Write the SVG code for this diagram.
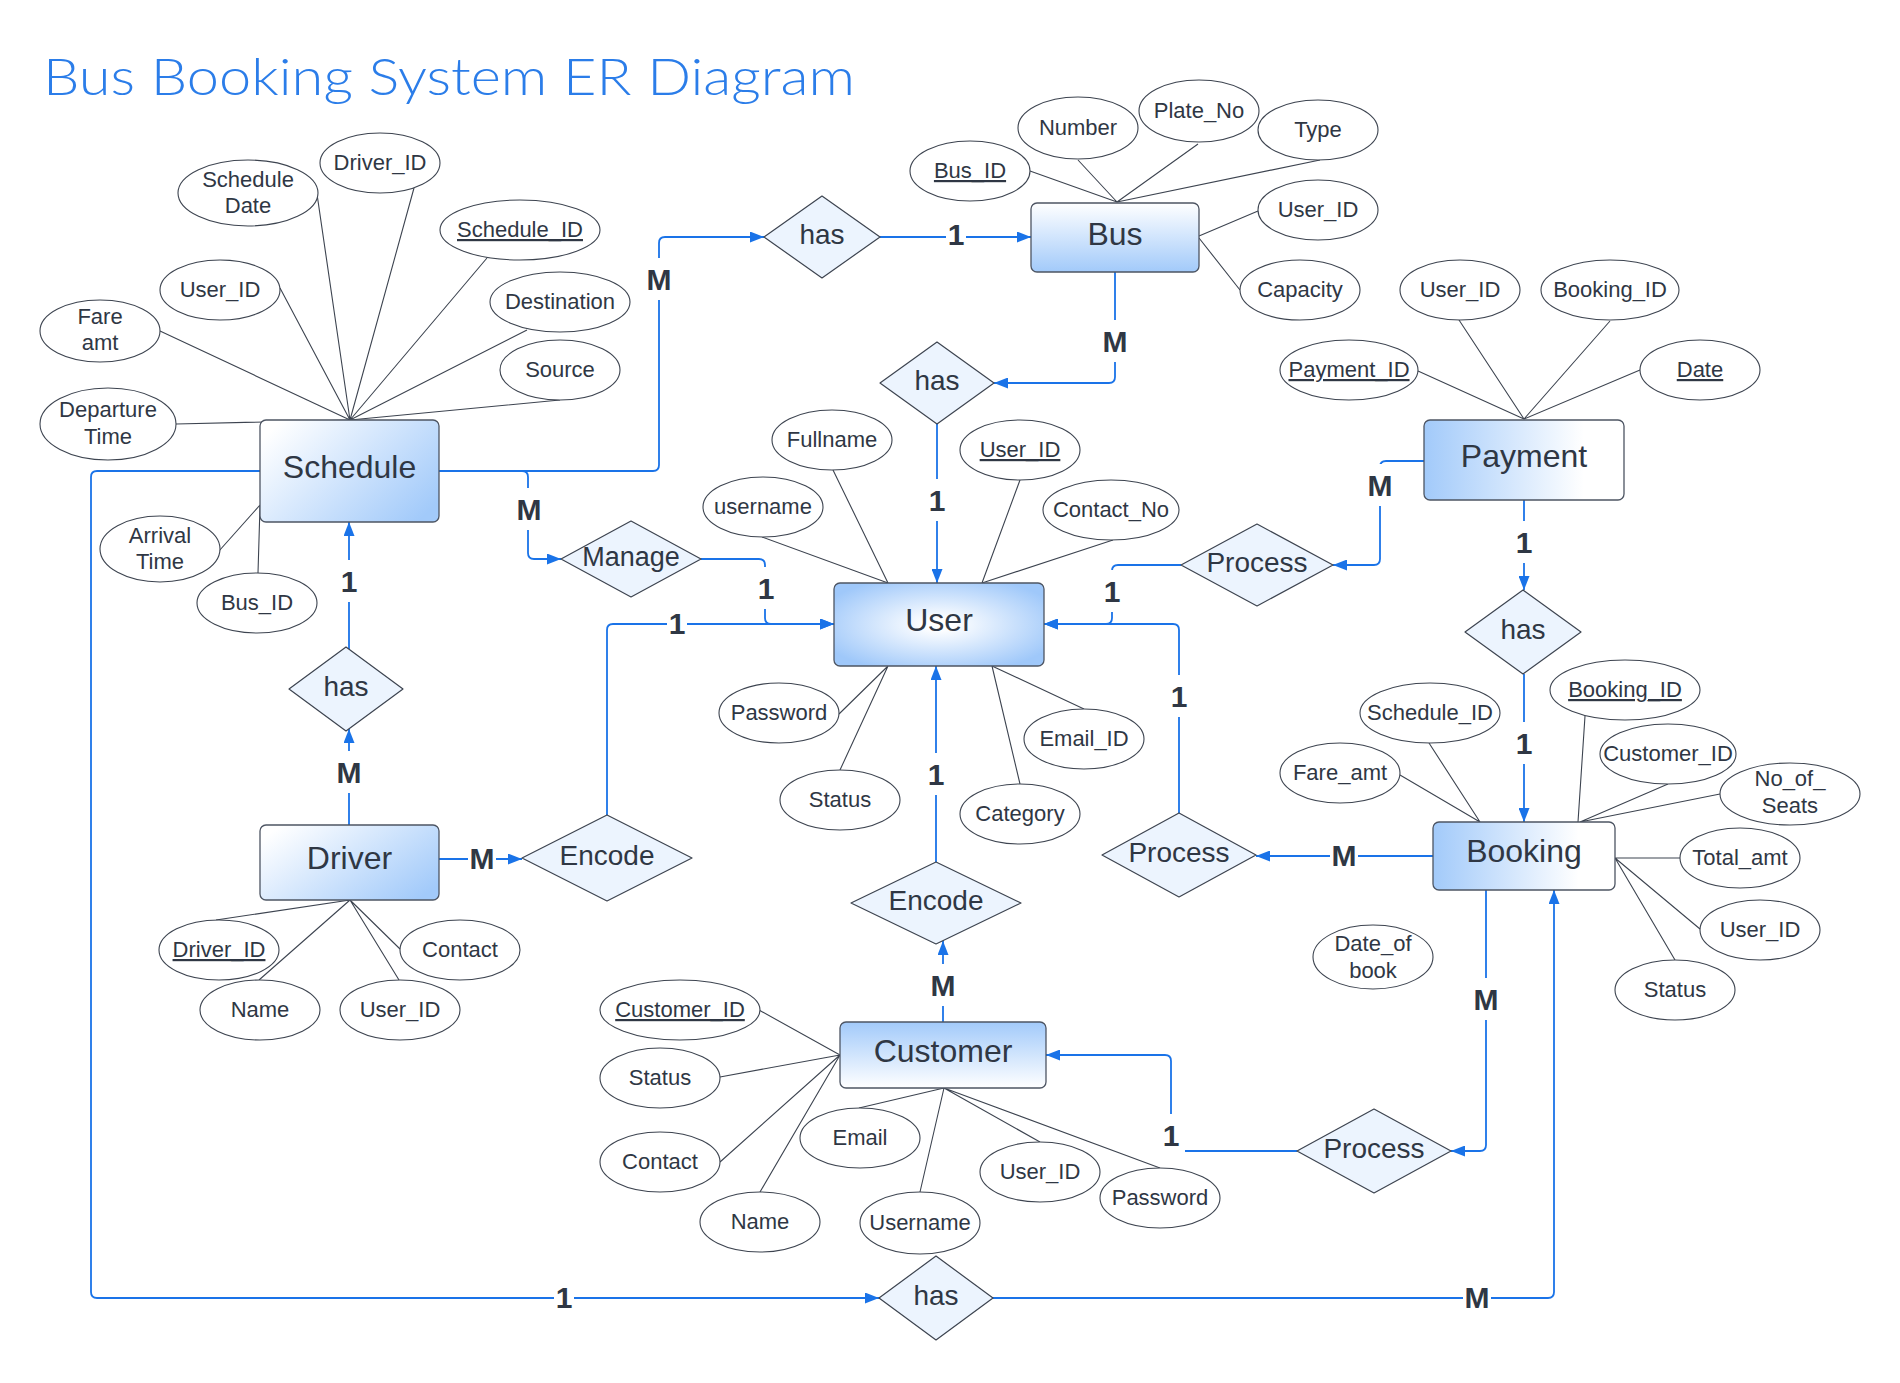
<svg xmlns="http://www.w3.org/2000/svg" width="1900" height="1383" viewBox="0 0 1900 1383">
<defs>
<style>
.ent{stroke:#4d5563;stroke-width:1.3}
.et{font-family:"Liberation Sans",Arial,sans-serif;font-size:32px;fill:#2f3744;text-anchor:middle}
.rel{fill:#ecf4fe;stroke:#3d4450;stroke-width:1.2;stroke-linejoin:round}
.rt{font-family:"Liberation Sans",Arial,sans-serif;font-size:28px;fill:#2f3744;text-anchor:middle}
.att ellipse{fill:#fff;stroke:#3d4450;stroke-width:1.1}
.at{font-family:"Liberation Sans",Arial,sans-serif;font-size:22px;fill:#2f3744;text-anchor:middle}
.u{text-decoration:underline}
.al{stroke:#3d4450;stroke-width:1.1;fill:none}
.cn{fill:none;stroke:#1a73e8;stroke-width:1.8}
.ar{marker-end:url(#arr)}
.card{font-family:"Liberation Sans",Arial,sans-serif;font-size:30px;font-weight:bold;fill:#2f3744;text-anchor:middle}
.bg{fill:#fff}
.title{font-family:Lato,"Open Sans",sans-serif;font-weight:300;font-size:52px;fill:#2b7de9}
</style>
<marker id="arr" viewBox="0 0 14 11" refX="14" refY="5.5" markerWidth="14" markerHeight="11" markerUnits="userSpaceOnUse" orient="auto"><path d="M0,0 L14,5.5 L0,11 z" fill="#1a73e8"/></marker>
<linearGradient id="gD" x1="0" y1="0.2" x2="1" y2="0.8"><stop offset="0" stop-color="#ffffff"/><stop offset="1" stop-color="#a2cafa"/></linearGradient>
<linearGradient id="gV" x1="0" y1="0" x2="0" y2="1"><stop offset="0" stop-color="#ffffff"/><stop offset="1" stop-color="#a2cafa"/></linearGradient>
<linearGradient id="gVr" x1="0" y1="0" x2="0" y2="1"><stop offset="0" stop-color="#a2cafa"/><stop offset="1" stop-color="#ffffff"/></linearGradient>
<linearGradient id="gH" x1="0" y1="0" x2="1" y2="0"><stop offset="0" stop-color="#a2cafa"/><stop offset="0.8" stop-color="#ffffff"/></linearGradient>
<radialGradient id="gR" cx="0.5" cy="0.5" r="0.6"><stop offset="0.1" stop-color="#ffffff"/><stop offset="1" stop-color="#9fc8fa"/></radialGradient>
</defs>
<rect width="1900" height="1383" fill="#fff"/>
<text class="title" x="43" y="95" textLength="812" lengthAdjust="spacingAndGlyphs">Bus Booking System ER Diagram</text>

<g id="connectors">
<!-- attribute lines: Schedule -->
<path class="al" d="M317,194 L350,420 M414,188 L350,420 M487,258 L350,420 M280,288 L350,420 M527,330 L350,420 M160,331 L350,420 M560,400 L350,420 M176,424 L350,420 M219,551 L260,505 M258,573 L260,506"/>
<!-- Bus -->
<path class="al" d="M1030,171 L1117,202 M1078,160 L1117,202 M1198,144 L1117,202 M1320,160 L1117,202 M1258,211 L1199,236 M1240,290 L1199,238"/>
<!-- Payment -->
<path class="al" d="M1418,371 L1524,419 M1459,320 L1524,419 M1610,321 L1524,419 M1640,370 L1524,419"/>
<!-- User -->
<path class="al" d="M833,470 L888,583 M762,537 L888,583 M1020,480 L982,583 M1113,540 L982,583 M839,714 L888,666 M840,770 L888,666 M1084,709 L992,666 M1020,784 L992,666"/>
<!-- Booking -->
<path class="al" d="M1429,743 L1480,822 M1400,775 L1480,822 M1585,716 L1578,822 M1668,784 L1580,822 M1720,794 L1580,822 M1680,858 L1615,858 M1700,929 L1615,858 M1675,960 L1615,858"/>
<!-- Driver -->
<path class="al" d="M216,920 L350,900 M259,980 L350,900 M399,980 L350,900 M400,949 L350,900"/>
<!-- Customer -->
<path class="al" d="M759,1010 L840,1055 M720,1077 L840,1055 M720,1162 L840,1055 M760,1192 L840,1055 M859,1108 L944,1088 M920,1192 L944,1088 M1040,1142 L944,1088 M1160,1168 L944,1088"/>

<!-- relationship connectors -->
<path class="cn ar" d="M439,471 H653 Q659,471 659,465 V243 Q659,237 665,237 H764"/>
<path class="cn ar" d="M439,471 H522 Q528,471 528,477 V553 Q528,559 534,559 H561"/>
<path class="cn ar" d="M880,237 H1031"/>
<path class="cn ar" d="M1115,272 V377 Q1115,383 1109,383 H994"/>
<path class="cn ar" d="M937,424 V583"/>
<path class="cn ar" d="M701,559 H759 Q765,559 765,565 V618 Q765,624 771,624 H834"/>
<path class="cn ar" d="M607,815 V630 Q607,624 613,624 H834"/>
<path class="cn ar" d="M439,859 H522"/>
<path class="cn ar" d="M349,825 V729"/>
<path class="cn ar" d="M349,649 V522"/>
<path class="cn ar" d="M1424,461 H1386 Q1380,461 1380,467 V559 Q1380,565 1374,565 H1333"/>
<path class="cn ar" d="M1181,565 H1118 Q1112,565 1112,571 V618 Q1112,624 1106,624 H1044"/>
<path class="cn ar" d="M1179,813 V630 Q1179,624 1173,624 H1044"/>
<path class="cn ar" d="M1433,856 H1256"/>
<path class="cn ar" d="M1524,500 V590"/>
<path class="cn ar" d="M1524,674 V822"/>
<path class="cn ar" d="M1486,890 V1145 Q1486,1151 1480,1151 H1451"/>
<path class="cn ar" d="M1297,1151 H1177 Q1171,1151 1171,1145 V1061 Q1171,1055 1165,1055 H1046"/>
<path class="cn ar" d="M943,1022 V941"/>
<path class="cn ar" d="M936,862 V666"/>
<path class="cn ar" d="M260,471 H97 Q91,471 91,477 V1292 Q91,1298 97,1298 H879"/>
<path class="cn ar" d="M993,1298 H1548 Q1554,1298 1554,1292 V890"/>

<!-- cardinality labels -->
<g id="cardinalities">
<rect class="bg" x="645" y="258" width="28" height="42"/><text class="card" x="659" y="290">M</text>
<rect class="bg" x="946" y="222" width="20" height="30"/><text class="card" x="956" y="245">1</text>
<rect class="bg" x="1101" y="320" width="28" height="42"/><text class="card" x="1115" y="352">M</text>
<rect class="bg" x="923" y="479" width="28" height="42"/><text class="card" x="937" y="511">1</text>
<rect class="bg" x="515" y="488" width="28" height="42"/><text class="card" x="529" y="520">M</text>
<rect class="bg" x="752" y="567" width="28" height="42"/><text class="card" x="766" y="599">1</text>
<rect class="bg" x="667" y="609" width="20" height="30"/><text class="card" x="677" y="634">1</text>
<rect class="bg" x="468" y="844" width="28" height="30"/><text class="card" x="482" y="869">M</text>
<rect class="bg" x="335" y="751" width="28" height="42"/><text class="card" x="349" y="783">M</text>
<rect class="bg" x="335" y="560" width="28" height="42"/><text class="card" x="349" y="592">1</text>
<rect class="bg" x="1366" y="464" width="28" height="42"/><text class="card" x="1380" y="496">M</text>
<rect class="bg" x="1098" y="570" width="28" height="42"/><text class="card" x="1112" y="602">1</text>
<rect class="bg" x="1165" y="675" width="28" height="42"/><text class="card" x="1179" y="707">1</text>
<rect class="bg" x="1330" y="841" width="28" height="30"/><text class="card" x="1344" y="866">M</text>
<rect class="bg" x="1510" y="521" width="28" height="42"/><text class="card" x="1524" y="553">1</text>
<rect class="bg" x="1510" y="722" width="28" height="42"/><text class="card" x="1524" y="754">1</text>
<rect class="bg" x="1472" y="978" width="28" height="42"/><text class="card" x="1486" y="1010">M</text>
<rect class="bg" x="1157" y="1114" width="28" height="42"/><text class="card" x="1171" y="1146">1</text>
<rect class="bg" x="929" y="964" width="28" height="42"/><text class="card" x="943" y="996">M</text>
<rect class="bg" x="922" y="753" width="28" height="42"/><text class="card" x="936" y="785">1</text>
<rect class="bg" x="554" y="1283" width="20" height="30"/><text class="card" x="564" y="1308">1</text>
<rect class="bg" x="1463" y="1283" width="28" height="30"/><text class="card" x="1477" y="1308">M</text>
</g>
</g>

<!-- Entities -->
<g id="schedule"><rect class="ent" x="260" y="420" width="179" height="102" rx="6" fill="url(#gD)"/><text class="et" x="349.5" y="478">Schedule</text></g>
<g id="bus"><rect class="ent" x="1031" y="203" width="168" height="69" rx="6" fill="url(#gV)"/><text class="et" x="1115" y="245">Bus</text></g>
<g id="payment"><rect class="ent" x="1424" y="420" width="200" height="80" rx="6" fill="url(#gH)"/><text class="et" x="1524" y="467">Payment</text></g>
<g id="user"><rect class="ent" x="834" y="583" width="210" height="83" rx="6" fill="url(#gR)"/><text class="et" x="939" y="631">User</text></g>
<g id="booking"><rect class="ent" x="1433" y="822" width="182" height="68" rx="6" fill="url(#gH)"/><text class="et" x="1524" y="862">Booking</text></g>
<g id="driver"><rect class="ent" x="260" y="825" width="179" height="75" rx="6" fill="url(#gD)"/><text class="et" x="349.5" y="869">Driver</text></g>
<g id="customer"><rect class="ent" x="840" y="1022" width="206" height="66" rx="6" fill="url(#gVr)"/><text class="et" x="943" y="1062">Customer</text></g>

<!-- Relationships -->
<g id="rel-has-schedule-bus"><polygon class="rel" points="764,237 822,196 880,237 822,278"/><text class="rt" x="822" y="244">has</text></g>
<g id="rel-has-bus-user"><polygon class="rel" points="880,383 937,342 994,383 937,424"/><text class="rt" x="937" y="390">has</text></g>
<g id="rel-manage"><polygon class="rel" points="561,559 631,521 701,559 631,597"/><text class="rt" x="631" y="566" style="font-size:27px">Manage</text></g>
<g id="rel-process-payment"><polygon class="rel" points="1181,565 1257,524 1333,565 1257,606"/><text class="rt" x="1257" y="572">Process</text></g>
<g id="rel-has-payment-booking"><polygon class="rel" points="1465,632 1523,590 1581,632 1523,674"/><text class="rt" x="1523" y="639">has</text></g>
<g id="rel-has-driver-schedule"><polygon class="rel" points="289,689 346,647 403,689 346,731"/><text class="rt" x="346" y="696">has</text></g>
<g id="rel-encode-driver"><polygon class="rel" points="522,858 607,815 692,858 607,901"/><text class="rt" x="607" y="865">Encode</text></g>
<g id="rel-process-booking"><polygon class="rel" points="1102,855 1179,813 1256,855 1179,897"/><text class="rt" x="1179" y="862">Process</text></g>
<g id="rel-encode-customer"><polygon class="rel" points="851,903 936,862 1021,903 936,944"/><text class="rt" x="936" y="910">Encode</text></g>
<g id="rel-process-customer"><polygon class="rel" points="1297,1151 1374,1109 1451,1151 1374,1193"/><text class="rt" x="1374" y="1158">Process</text></g>
<g id="rel-has-schedule-booking"><polygon class="rel" points="879,1298 936,1256 993,1298 936,1340"/><text class="rt" x="936" y="1305">has</text></g>

<!-- Attributes: Schedule -->
<g id="attr-schedule" class="att">
<g id="a-sched-date"><ellipse cx="248" cy="193" rx="70" ry="33"/><text class="at" x="248" y="187">Schedule</text><text class="at" x="248" y="213">Date</text></g>
<g id="a-sched-driverid"><ellipse cx="380" cy="163" rx="60" ry="30"/><text class="at" x="380" y="170">Driver_ID</text></g>
<g id="a-sched-id"><ellipse cx="520" cy="230" rx="80" ry="30"/><text class="at u" x="520" y="237">Schedule_ID</text></g>
<g id="a-sched-userid"><ellipse cx="220" cy="290" rx="60" ry="30"/><text class="at" x="220" y="297">User_ID</text></g>
<g id="a-sched-dest"><ellipse cx="560" cy="302" rx="70" ry="30"/><text class="at" x="560" y="309">Destination</text></g>
<g id="a-sched-fare"><ellipse cx="100" cy="331" rx="60" ry="31"/><text class="at" x="100" y="324">Fare</text><text class="at" x="100" y="350">amt</text></g>
<g id="a-sched-source"><ellipse cx="560" cy="370" rx="60" ry="30"/><text class="at" x="560" y="377">Source</text></g>
<g id="a-sched-dep"><ellipse cx="108" cy="424" rx="68" ry="36"/><text class="at" x="108" y="417">Departure</text><text class="at" x="108" y="444">Time</text></g>
<g id="a-sched-arr"><ellipse cx="160" cy="549" rx="60" ry="33"/><text class="at" x="160" y="543">Arrival</text><text class="at" x="160" y="569">Time</text></g>
<g id="a-sched-busid"><ellipse cx="257" cy="603" rx="60" ry="30"/><text class="at" x="257" y="610">Bus_ID</text></g>
</g>

<!-- Attributes: Bus -->
<g id="attr-bus" class="att">
<g id="a-bus-id"><ellipse cx="970" cy="171" rx="60" ry="30"/><text class="at u" x="970" y="178">Bus_ID</text></g>
<g id="a-bus-number"><ellipse cx="1078" cy="128" rx="60" ry="31"/><text class="at" x="1078" y="135">Number</text></g>
<g id="a-bus-plate"><ellipse cx="1199" cy="111" rx="60" ry="31"/><text class="at" x="1199" y="118">Plate_No</text></g>
<g id="a-bus-type"><ellipse cx="1318" cy="130" rx="60" ry="30"/><text class="at" x="1318" y="137">Type</text></g>
<g id="a-bus-userid"><ellipse cx="1318" cy="210" rx="60" ry="30"/><text class="at" x="1318" y="217">User_ID</text></g>
<g id="a-bus-cap"><ellipse cx="1300" cy="290" rx="60" ry="30"/><text class="at" x="1300" y="297">Capacity</text></g>
</g>

<!-- Attributes: Payment -->
<g id="attr-payment" class="att">
<g id="a-pay-userid"><ellipse cx="1460" cy="290" rx="60" ry="30"/><text class="at" x="1460" y="297">User_ID</text></g>
<g id="a-pay-bookingid"><ellipse cx="1610" cy="290" rx="69" ry="30"/><text class="at" x="1610" y="297">Booking_ID</text></g>
<g id="a-pay-id"><ellipse cx="1349" cy="370" rx="69" ry="30"/><text class="at u" x="1349" y="377">Payment_ID</text></g>
<g id="a-pay-date"><ellipse cx="1700" cy="370" rx="60" ry="30"/><text class="at u" x="1700" y="377">Date</text></g>
</g>

<!-- Attributes: User -->
<g id="attr-user" class="att">
<g id="a-user-fullname"><ellipse cx="832" cy="440" rx="60" ry="30"/><text class="at" x="832" y="447">Fullname</text></g>
<g id="a-user-username"><ellipse cx="763" cy="507" rx="60" ry="30"/><text class="at" x="763" y="514">username</text></g>
<g id="a-user-id"><ellipse cx="1020" cy="450" rx="60" ry="30"/><text class="at u" x="1020" y="457">User_ID</text></g>
<g id="a-user-contact"><ellipse cx="1111" cy="510" rx="68" ry="30"/><text class="at" x="1111" y="517">Contact_No</text></g>
<g id="a-user-password"><ellipse cx="779" cy="713" rx="60" ry="30"/><text class="at" x="779" y="720">Password</text></g>
<g id="a-user-status"><ellipse cx="840" cy="800" rx="60" ry="30"/><text class="at" x="840" y="807">Status</text></g>
<g id="a-user-email"><ellipse cx="1084" cy="739" rx="60" ry="30"/><text class="at" x="1084" y="746">Email_ID</text></g>
<g id="a-user-category"><ellipse cx="1020" cy="814" rx="60" ry="30"/><text class="at" x="1020" y="821">Category</text></g>
</g>

<!-- Attributes: Booking -->
<g id="attr-booking" class="att">
<g id="a-book-schedid"><ellipse cx="1430" cy="713" rx="70" ry="30"/><text class="at" x="1430" y="720">Schedule_ID</text></g>
<g id="a-book-id"><ellipse cx="1625" cy="690" rx="75" ry="30"/><text class="at u" x="1625" y="697">Booking_ID</text></g>
<g id="a-book-fare"><ellipse cx="1340" cy="773" rx="60" ry="30"/><text class="at" x="1340" y="780">Fare_amt</text></g>
<g id="a-book-custid"><ellipse cx="1668" cy="754" rx="68" ry="30"/><text class="at" x="1668" y="761">Customer_ID</text></g>
<g id="a-book-seats"><ellipse cx="1790" cy="794" rx="70" ry="31"/><text class="at" x="1790" y="786">No_of_</text><text class="at" x="1790" y="813">Seats</text></g>
<g id="a-book-total"><ellipse cx="1740" cy="858" rx="60" ry="30"/><text class="at" x="1740" y="865">Total_amt</text></g>
<g id="a-book-userid"><ellipse cx="1760" cy="930" rx="60" ry="30"/><text class="at" x="1760" y="937">User_ID</text></g>
<g id="a-book-status"><ellipse cx="1675" cy="990" rx="60" ry="30"/><text class="at" x="1675" y="997">Status</text></g>
<g id="a-book-date"><ellipse cx="1373" cy="957" rx="60" ry="32"/><text class="at" x="1373" y="951">Date_of</text><text class="at" x="1373" y="978">book</text></g>
</g>

<!-- Attributes: Driver -->
<g id="attr-driver" class="att">
<g id="a-drv-id"><ellipse cx="219" cy="950" rx="60" ry="30"/><text class="at u" x="219" y="957">Driver_ID</text></g>
<g id="a-drv-contact"><ellipse cx="460" cy="950" rx="60" ry="30"/><text class="at" x="460" y="957">Contact</text></g>
<g id="a-drv-name"><ellipse cx="260" cy="1010" rx="60" ry="30"/><text class="at" x="260" y="1017">Name</text></g>
<g id="a-drv-userid"><ellipse cx="400" cy="1010" rx="60" ry="30"/><text class="at" x="400" y="1017">User_ID</text></g>
</g>

<!-- Attributes: Customer -->
<g id="attr-customer" class="att">
<g id="a-cust-id"><ellipse cx="680" cy="1010" rx="80" ry="30"/><text class="at u" x="680" y="1017">Customer_ID</text></g>
<g id="a-cust-status"><ellipse cx="660" cy="1078" rx="60" ry="30"/><text class="at" x="660" y="1085">Status</text></g>
<g id="a-cust-contact"><ellipse cx="660" cy="1162" rx="60" ry="30"/><text class="at" x="660" y="1169">Contact</text></g>
<g id="a-cust-name"><ellipse cx="760" cy="1222" rx="60" ry="30"/><text class="at" x="760" y="1229">Name</text></g>
<g id="a-cust-email"><ellipse cx="860" cy="1138" rx="60" ry="30"/><text class="at" x="860" y="1145">Email</text></g>
<g id="a-cust-username"><ellipse cx="920" cy="1223" rx="60" ry="31"/><text class="at" x="920" y="1230">Username</text></g>
<g id="a-cust-userid"><ellipse cx="1040" cy="1172" rx="60" ry="30"/><text class="at" x="1040" y="1179">User_ID</text></g>
<g id="a-cust-password"><ellipse cx="1160" cy="1198" rx="60" ry="30"/><text class="at" x="1160" y="1205">Password</text></g>
</g>
</svg>
